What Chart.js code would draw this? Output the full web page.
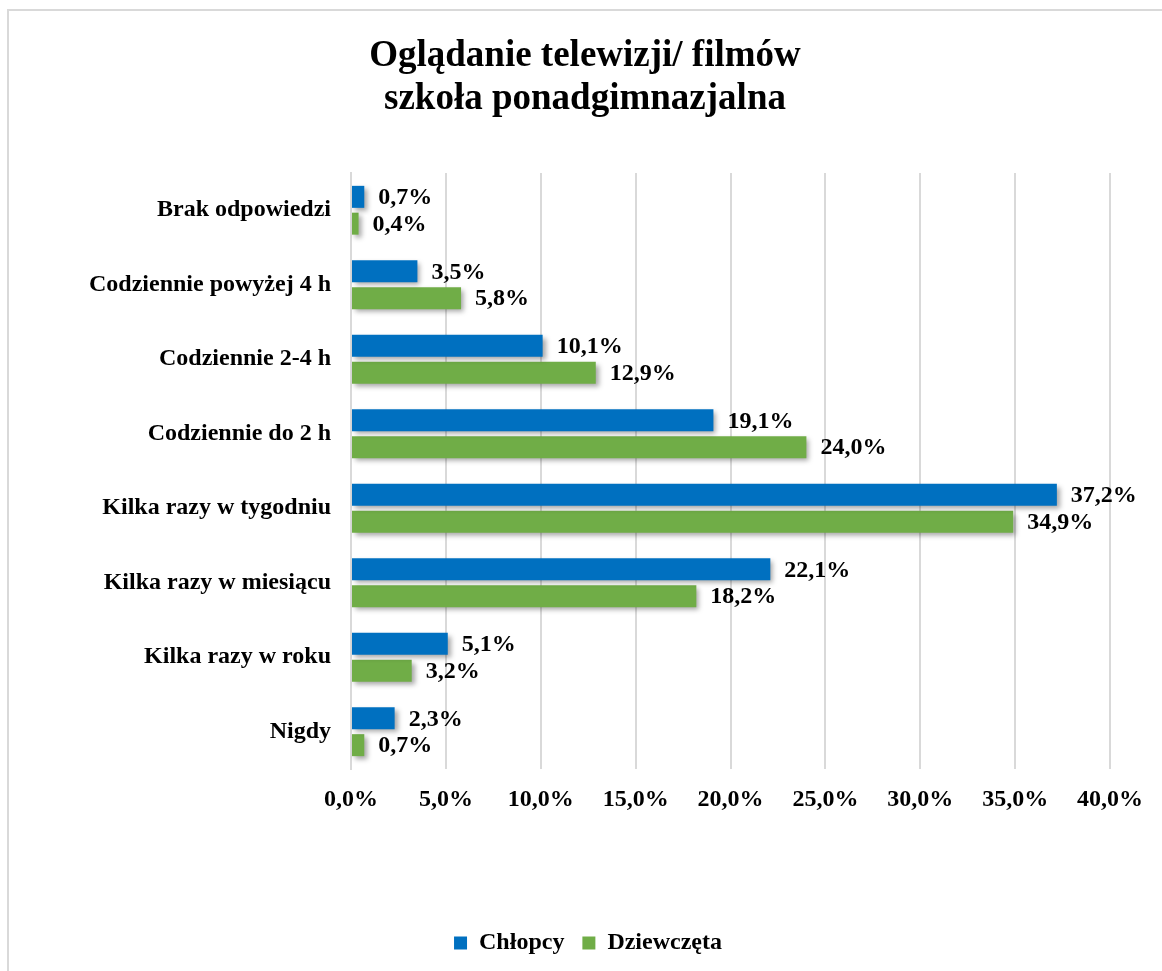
<!DOCTYPE html>
<html>
<head>
<meta charset="utf-8">
<script src="https://cdn.jsdelivr.net/npm/chart.js@4"></script>
<style>
  html, body { margin: 0; padding: 0; background: #fff; }
  #wrap { position: relative; width: 1162px; height: 971px; overflow: hidden; }
  #frame { position: absolute; left: 7px; top: 9px; width: 1200px; height: 1000px;
           border-left: 2px solid #d9d9d9; border-top: 2px solid #d9d9d9; box-sizing: border-box; }
  canvas { position: absolute; left: 0; top: 0; }
</style>
</head>
<body>
<div id="wrap">
  <div id="frame"></div>
  <canvas id="c" width="1162" height="971"></canvas>
</div>
<script>
const categories = [
  "Brak odpowiedzi",
  "Codziennie powyżej 4 h",
  "Codziennie 2-4 h",
  "Codziennie do 2 h",
  "Kilka razy w tygodniu",
  "Kilka razy w miesiącu",
  "Kilka razy w roku",
  "Nigdy"
];
const chlopcy    = [0.7, 3.5, 10.1, 19.1, 37.2, 22.1, 5.1, 2.3];
const dziewczeta = [0.4, 5.8, 12.9, 24.0, 34.9, 18.2, 3.2, 0.7];
const seriesNames = ["Chłopcy", "Dziewczęta"];
const titleLines = ["Oglądanie telewizji/ filmów", "szkoła ponadgimnazjalna"];

const FONT = "'Liberation Serif', 'Times New Roman', serif";
const fmt = v => v.toFixed(1).replace('.', ',') + '%';

const shadowPlugin = {
  id: 'barShadow',
  beforeDatasetsDraw(chart) {
    const ctx = chart.ctx;
    ctx.save();
    ctx.shadowColor = 'rgba(0,0,0,0.35)';
    ctx.shadowBlur = 5;
    ctx.shadowOffsetX = 3;
    ctx.shadowOffsetY = 3;
  },
  afterDatasetsDraw(chart) {
    chart.ctx.restore();
  }
};

const labelPlugin = {
  id: 'valueLabels',
  afterDatasetsDraw(chart) {
    const ctx = chart.ctx;
    ctx.save();
    ctx.font = "bold 24px " + FONT;
    ctx.fillStyle = '#000';
    ctx.textAlign = 'left';
    ctx.textBaseline = 'middle';
    chart.data.datasets.forEach((ds, di) => {
      const meta = chart.getDatasetMeta(di);
      meta.data.forEach((bar, i) => {
        ctx.fillText(fmt(ds.data[i]), bar.x + 14, bar.y + 1);
      });
    });
    ctx.restore();
  }
};

const titlePlugin = {
  id: 'centerTitle',
  afterDraw(chart) {
    const ctx = chart.ctx;
    ctx.save();
    ctx.font = "bold 37px " + FONT;
    ctx.fillStyle = '#000';
    ctx.textAlign = 'center';
    ctx.textBaseline = 'middle';
    const cx = (8 + chart.width) / 2;
    ctx.fillText(titleLines[0], cx, 56);
    ctx.fillText(titleLines[1], cx, 99);
    ctx.restore();
  }
};

new Chart(document.getElementById('c'), {
  type: 'bar',
  data: {
    labels: categories,
    datasets: [
      { label: seriesNames[0], data: chlopcy, backgroundColor: '#0070C0', xAxisID: 'x', yAxisID: 'y' },
      { label: seriesNames[1], data: dziewczeta, backgroundColor: '#70AD47', xAxisID: 'x', yAxisID: 'y' }
    ]
  },
  options: {
    indexAxis: 'y',
    responsive: false,
    animation: false,
    devicePixelRatio: 1,
    barPercentage: 0.82,
    categoryPercentage: 0.72,
    layout: { padding: { top: 173, left: 14, right: 0, bottom: 6 } },
    plugins: {
      title: { display: false },
      legend: {
        position: 'bottom',
        labels: {
          color: '#000',
          font: { family: FONT, size: 24, weight: 'bold' },
          boxWidth: 13, boxHeight: 13,
          padding: 18
        }
      },
      tooltip: { enabled: false }
    },
    scales: {
      x: {
        min: 0, max: 40,
        ticks: {
          stepSize: 5,
          color: '#000',
          font: { family: FONT, size: 24, weight: 'bold' },
          padding: 16,
          callback: v => fmt(v)
        },
        grid: { color: '#d9d9d9', lineWidth: 2, drawTicks: false },
        border: { display: false },
        afterFit(scale) { scale.height = 144; }
      },
      y: {
        ticks: {
          color: '#000',
          font: { family: FONT, size: 24, weight: 'bold' },
          padding: 20
        },
        grid: { display: false, drawTicks: false },
        border: { display: true, color: '#d9d9d9', width: 2 },
        afterFit(scale) { scale.width = 337; }
      },
      yRight: {
        type: 'category',
        position: 'right',
        axis: 'y',
        ticks: { display: false },
        grid: { display: false, drawTicks: false },
        border: { display: false },
        afterFit(scale) { scale.width = 52; }
      }
    }
  },
  plugins: [shadowPlugin, labelPlugin, titlePlugin]
});
</script>
</body>
</html>
